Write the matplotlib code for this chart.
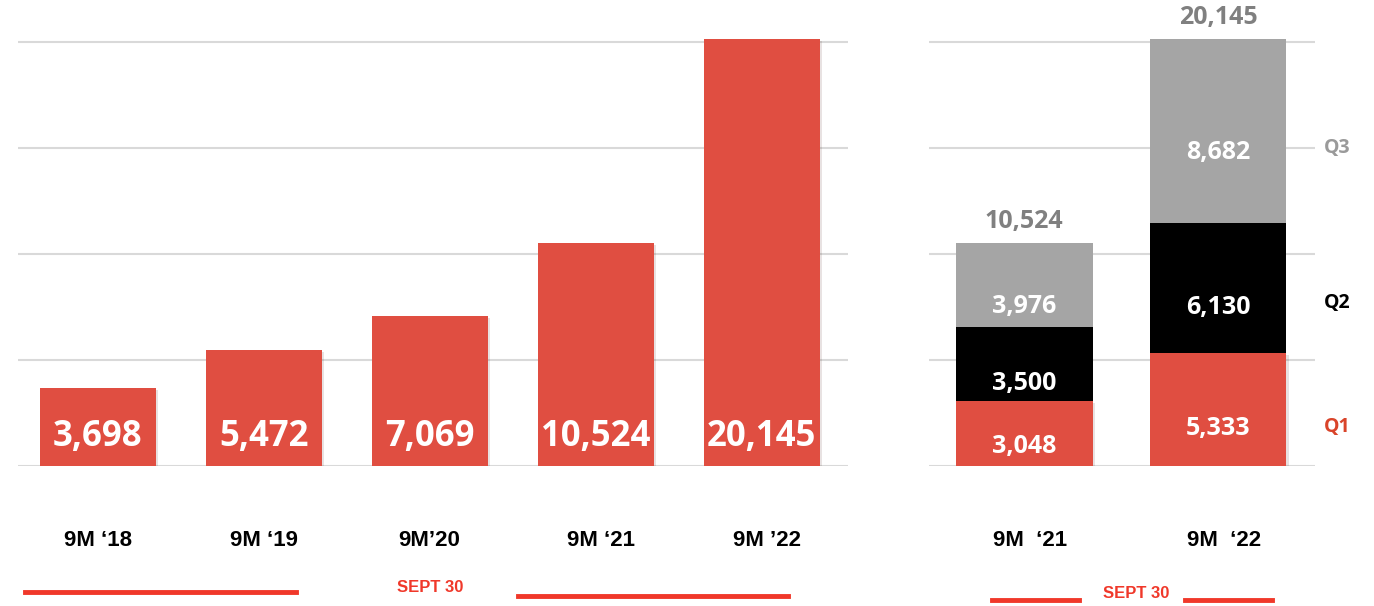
import matplotlib
matplotlib.use('Agg')
import matplotlib.pyplot as plt
import matplotlib.patheffects as pe
from matplotlib.lines import Line2D

# data
years = ["9M \u201818", "9M \u201819", "9M\u201920", "9M \u201821", "9M \u201922"]
totals = [3698, 5472, 7069, 10524, 20145]

q_years = ["9M  \u201821", "9M  \u201822"]
q1 = [3048, 5333]
q2 = [3500, 6130]
q3 = [3976, 8682]
q_totals = [10524, 20145]

RED = '#E04E41'
GRAY = '#A5A5A5'
GRID = '#D9D9D9'
NUM_FONT = ['Open Sans', 'DejaVu Sans']
CAT_FONT = ['Liberation Sans', 'DejaVu Sans']

fig = plt.figure(figsize=(13.74, 6.06), dpi=100)
W, H = 1374, 606
ymax = 20000 + 42 * 5000 / 106
shadow = [pe.SimplePatchShadow(offset=(1.5, -1.5), alpha=0.12), pe.Normal()]


def style(ax):
    ax.set_ylim(0, ymax)
    ax.set_yticks([0, 5000, 10000, 15000, 20000])
    ax.yaxis.grid(True, color=GRID, linewidth=1.5)
    ax.set_axisbelow(True)
    for s in ax.spines.values():
        s.set_visible(False)
    ax.tick_params(length=0, labelleft=False)
    ax.set_xticks([])


# left chart
ax1 = fig.add_axes([18 / W, (H - 466) / H, (848 - 18) / W, 466 / H])
style(ax1)
x = range(len(years))
ax1.bar(x, totals, width=0.7, color=RED, path_effects=shadow)
ax1.set_xlim(-0.48, 4.52)
for i, v in enumerate(totals):
    ax1.text(i, 950, f"{v:,}", ha='center', va='baseline', color='white',
             fontsize=25, fontweight='bold', family=NUM_FONT)
for i, lab in enumerate(years):
    ax1.text(i + 0.03 * (i >= 3), -3500, lab, ha='center', va='center', fontsize=16,
             fontweight='bold', family=CAT_FONT, clip_on=False)

# right chart
ax2 = fig.add_axes([929 / W, (H - 466) / H, (1315 - 929) / W, 466 / H])
style(ax2)
xr = range(len(q_years))
w = 0.706
ax2.bar(xr, q1, width=w, color=RED, path_effects=shadow)
ax2.bar(xr, q2, width=w, bottom=q1, color='black')
bot3 = [a + b for a, b in zip(q1, q2)]
ax2.bar(xr, q3, width=w, bottom=bot3, color=GRAY)
ax2.set_xlim(-0.49, 1.5)
for i in xr:
    off1 = -600 if i == 0 else -880
    ax2.text(i, q1[i] / 2 + off1, f"{q1[i]:,}", ha='center', va='center',
             color='white', fontsize=18, fontweight='bold', family=NUM_FONT)
    ax2.text(i, q1[i] + q2[i] / 2 - 900, f"{q2[i]:,}", ha='center', va='center',
             color='white', fontsize=18, fontweight='bold', family=NUM_FONT)
    ax2.text(i, bot3[i] + q3[i] / 2 - 1000, f"{q3[i]:,}", ha='center', va='center',
             color='white', fontsize=18, fontweight='bold', family=NUM_FONT)
    ax2.text(i, q_totals[i] + 400, f"{q_totals[i]:,}", ha='center', va='bottom',
             color='#808080', fontsize=18, fontweight='bold', family=NUM_FONT)
    ax2.text(i + 0.03, -3500, q_years[i], ha='center', va='center', fontsize=16,
             fontweight='bold', family=CAT_FONT, clip_on=False)

# quarter labels
ax2.text(1.545, 15000, "Q3", color='#9A9A9A', fontsize=14, fontweight='bold',
         family=NUM_FONT, va='center', clip_on=False)
ax2.text(1.545, 7700, "Q2", color='black', fontsize=14, fontweight='bold',
         family=NUM_FONT, va='center', clip_on=False)
ax2.text(1.545, 1850, "Q1", color='#D9442A', fontsize=14, fontweight='bold',
         family=NUM_FONT, va='center', clip_on=False)

# SEPT 30 brackets
SEPT = '#F0382A'


def hline(x0, x1, y):
    fig.add_artist(Line2D([x0 / W, x1 / W], [1 - y / H, 1 - y / H],
                          color=SEPT, linewidth=3.5, transform=fig.transFigure))


hline(25, 296, 592)
hline(518, 788, 596)
hline(992, 1079, 600)
hline(1185, 1272, 600)
fig.text(430 / W, 1 - 587 / H, "SEPT 30", color=SEPT, fontsize=12,
         fontweight='bold', family=CAT_FONT, ha='center', va='center')
fig.text(1136 / W, 1 - 593 / H, "SEPT 30", color=SEPT, fontsize=12,
         fontweight='bold', family=CAT_FONT, ha='center', va='center')

fig.savefig('out.png', dpi=100)
